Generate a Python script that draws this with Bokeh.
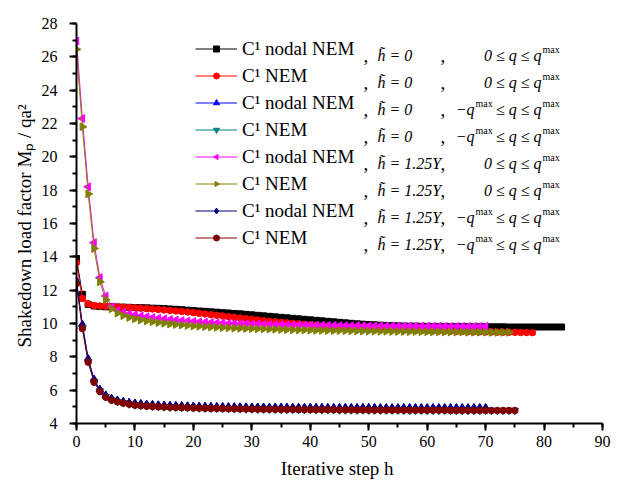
import math
from bokeh.plotting import figure
from bokeh.models import (ColumnDataSource, Range1d, SingleIntervalTicker,
                          Legend, LegendItem, Label)
from bokeh.embed import file_html
from bokeh.resources import INLINE

FONT = "Liberation Serif"

# ---------------- data ----------------
method_labels = ["C¹ nodal NEM", "C¹ NEM", "C¹ nodal NEM", "C¹ NEM",
                 "C¹ nodal NEM", "C¹ NEM", "C¹ nodal NEM", "C¹ NEM"]
h_labels = ["h̃ = 0", "h̃ = 0", "h̃ = 0", "h̃ = 0",
            "h̃ = 1.25Y", "h̃ = 1.25Y", "h̃ = 1.25Y", "h̃ = 1.25Y"]
q_symmetric = [False, False, True, True, False, False, True, True]

nodal_h0_pos = [13.90, 11.75, 11.15, 11.05, 11.02, 11.00, 11.00, 10.99, 10.98, 10.97,
                10.96, 10.95, 10.94, 10.92, 10.91, 10.89, 10.87, 10.85, 10.83, 10.80,
                10.78, 10.75, 10.73, 10.70, 10.68, 10.65, 10.63, 10.60, 10.58, 10.55,
                10.52, 10.49, 10.46, 10.43, 10.40, 10.37, 10.34, 10.31, 10.28, 10.25,
                10.22, 10.19, 10.16, 10.13, 10.10, 10.07, 10.04, 10.01, 9.98, 9.96,
                9.94, 9.92, 9.90, 9.88, 9.87, 9.86, 9.85, 9.84, 9.84, 9.83,
                9.83, 9.82, 9.82, 9.82, 9.81, 9.81, 9.81, 9.81, 9.80, 9.80,
                9.80, 9.80, 9.80, 9.80, 9.79, 9.79, 9.79, 9.79, 9.79, 9.79,
                9.79, 9.79, 9.79, 9.79]

nem_h0_pos = [13.65, 11.50, 11.18, 11.07, 11.05, 11.03, 11.02, 11.00, 10.98, 10.96,
              10.94, 10.92, 10.90, 10.87, 10.84, 10.81, 10.78, 10.75, 10.72, 10.69,
              10.65, 10.61, 10.57, 10.53, 10.49, 10.45, 10.41, 10.37, 10.33, 10.29,
              10.25, 10.21, 10.17, 10.13, 10.10, 10.07, 10.04, 10.01, 9.98, 9.95,
              9.92, 9.89, 9.86, 9.84, 9.81, 9.79, 9.77, 9.75, 9.73, 9.71,
              9.69, 9.67, 9.66, 9.64, 9.63, 9.62, 9.61, 9.60, 9.59, 9.58,
              9.57, 9.56, 9.55, 9.54, 9.53, 9.52, 9.52, 9.51, 9.50, 9.50,
              9.49, 9.49, 9.48, 9.48, 9.47, 9.47, 9.46, 9.46, 9.45]

nodal_h0_sym = [12.55, 9.95, 7.88, 6.65, 6.04, 5.70, 5.50, 5.39, 5.31, 5.25,
                5.21, 5.18, 5.15, 5.12, 5.10, 5.09, 5.07, 5.06, 5.05, 5.04,
                5.03, 5.02, 5.01, 5.01, 5.00, 5.00, 4.99, 4.99, 4.98, 4.98,
                4.97, 4.97, 4.97, 4.96, 4.96, 4.96, 4.96, 4.95, 4.95, 4.95,
                4.95, 4.95, 4.95, 4.94, 4.94, 4.94, 4.94, 4.94, 4.94, 4.94,
                4.94, 4.94, 4.93, 4.93, 4.93, 4.93, 4.93, 4.93, 4.93, 4.93,
                4.93, 4.93, 4.93, 4.93, 4.93, 4.93, 4.93, 4.93, 4.93, 4.93,
                4.93]

nem_h0_sym = [12.45, 9.75, 7.72, 6.52, 5.95, 5.61, 5.42, 5.32, 5.24, 5.17,
              5.11, 5.08, 5.05, 5.03, 5.01, 4.99, 4.98, 4.97, 4.96, 4.95,
              4.94, 4.93, 4.92, 4.91, 4.90, 4.90, 4.89, 4.88, 4.88, 4.87,
              4.87, 4.86, 4.86, 4.85, 4.85, 4.84, 4.84, 4.84, 4.83, 4.83,
              4.83, 4.82, 4.82, 4.82, 4.82, 4.81, 4.81, 4.81, 4.81, 4.81,
              4.80, 4.80, 4.80, 4.80, 4.80, 4.80, 4.79, 4.79, 4.79, 4.79,
              4.79, 4.79, 4.79, 4.79, 4.78, 4.78, 4.78, 4.78, 4.78, 4.78,
              4.78, 4.78, 4.78, 4.78, 4.78, 4.78]

nodal_h125_pos = [26.95, 22.30, 18.20, 14.85, 12.75, 11.65, 11.00, 10.78, 10.66, 10.58,
                  10.52, 10.46, 10.41, 10.36, 10.32, 10.28, 10.24, 10.21, 10.18, 10.15,
                  10.12, 10.10, 10.08, 10.06, 10.04, 10.03, 10.01, 10.00, 9.99, 9.98,
                  9.97, 9.96, 9.95, 9.94, 9.93, 9.93, 9.92, 9.91, 9.91, 9.90,
                  9.90, 9.89, 9.89, 9.88, 9.88, 9.88, 9.87, 9.87, 9.87, 9.86,
                  9.86, 9.86, 9.86, 9.85, 9.85, 9.85, 9.85, 9.85, 9.84, 9.84,
                  9.84, 9.84, 9.84, 9.84, 9.83, 9.83, 9.83, 9.83, 9.83, 9.83,
                  9.83]

nem_h125_pos = [26.45, 21.80, 17.77, 14.50, 12.50, 11.42, 10.88, 10.62, 10.47, 10.36,
                10.28, 10.21, 10.15, 10.10, 10.05, 10.01, 9.97, 9.94, 9.91, 9.88,
                9.85, 9.83, 9.81, 9.79, 9.77, 9.75, 9.74, 9.72, 9.71, 9.70,
                9.69, 9.68, 9.67, 9.66, 9.65, 9.64, 9.63, 9.62, 9.61, 9.61,
                9.60, 9.59, 9.59, 9.58, 9.57, 9.57, 9.56, 9.56, 9.55, 9.55,
                9.54, 9.54, 9.53, 9.53, 9.52, 9.52, 9.52, 9.51, 9.51, 9.51,
                9.50, 9.50, 9.50, 9.49, 9.49, 9.49, 9.49, 9.48, 9.48, 9.48,
                9.48, 9.47, 9.47, 9.47, 9.47]

nodal_h125_sym = [12.50, 9.90, 7.84, 6.62, 6.02, 5.68, 5.48, 5.38, 5.30, 5.24,
                  5.20, 5.17, 5.14, 5.12, 5.10, 5.08, 5.07, 5.06, 5.05, 5.04,
                  5.03, 5.02, 5.01, 5.00, 5.00, 4.99, 4.99, 4.98, 4.98, 4.97,
                  4.97, 4.97, 4.96, 4.96, 4.96, 4.96, 4.95, 4.95, 4.95, 4.95,
                  4.95, 4.95, 4.94, 4.94, 4.94, 4.94, 4.94, 4.94, 4.94, 4.94,
                  4.94, 4.93, 4.93, 4.93, 4.93, 4.93, 4.93, 4.93, 4.93, 4.93,
                  4.93, 4.93, 4.93, 4.93, 4.93, 4.93, 4.93, 4.93, 4.93, 4.93,
                  4.93]

nem_h125_sym = [12.40, 9.70, 7.68, 6.48, 5.92, 5.58, 5.40, 5.30, 5.22, 5.16,
                5.10, 5.07, 5.04, 5.02, 5.00, 4.99, 4.97, 4.96, 4.95, 4.94,
                4.93, 4.92, 4.91, 4.90, 4.90, 4.89, 4.88, 4.88, 4.87, 4.87,
                4.86, 4.86, 4.85, 4.85, 4.85, 4.84, 4.84, 4.84, 4.83, 4.83,
                4.83, 4.82, 4.82, 4.82, 4.82, 4.81, 4.81, 4.81, 4.81, 4.81,
                4.80, 4.80, 4.80, 4.80, 4.80, 4.80, 4.79, 4.79, 4.79, 4.79,
                4.79, 4.79, 4.79, 4.79, 4.78, 4.78, 4.78, 4.78, 4.78, 4.78,
                4.78, 4.78, 4.78, 4.78, 4.78, 4.78]

series_values = [nodal_h0_pos, nem_h0_pos, nodal_h0_sym, nem_h0_sym,
                 nodal_h125_pos, nem_h125_pos, nodal_h125_sym, nem_h125_sym]

# ---------------- styles ----------------
colors = ["#000000", "#FF0000", "#0000FF", "#008080",
          "#FF00FF", "#808000", "#000080", "#800000"]
markers = ["square", "circle", "triangle", "inverted_triangle",
           "ngon", "ngon", "diamond", "circle"]
angles = [0.0, 0.0, 0.0, 0.0, math.pi / 2, -math.pi / 2, 0.0, 0.0]
sizes = [6, 6.5, 7.5, 7.5, 4.5, 4.5, 8.5, 6.5]

p = figure(width=611, height=481, output_backend="svg", toolbar_location=None,
           x_range=Range1d(0, 90), y_range=Range1d(4, 28),
           min_border_left=76, min_border_right=9,
           min_border_top=23, min_border_bottom=56)
p.xgrid.visible = False
p.ygrid.visible = False
p.outline_line_color = None
p.background_fill_color = "white"
p.border_fill_color = "white"

p.xaxis.ticker = SingleIntervalTicker(interval=10, num_minor_ticks=2)
p.yaxis.ticker = SingleIntervalTicker(interval=2, num_minor_ticks=2)
p.axis.axis_line_width = 2
p.axis.axis_line_color = "black"
p.axis.major_tick_line_width = 2
p.axis.minor_tick_line_width = 2
p.axis.major_tick_line_color = "black"
p.axis.minor_tick_line_color = "black"
p.axis.major_tick_out = 7
p.axis.major_tick_in = 0
p.axis.minor_tick_out = 4
p.axis.minor_tick_in = 0
p.axis.major_label_text_font = FONT
p.axis.major_label_text_font_size = "16px"
p.axis.major_label_text_color = "black"
p.axis.axis_label_text_font = FONT
p.axis.axis_label_text_font_size = "19px"
p.axis.axis_label_text_font_style = "normal"
p.axis.axis_label_text_color = "black"
p.yaxis.major_label_standoff = 12
p.xaxis.major_label_standoff = 5
p.yaxis.axis_label = "Shakedown load factor  Mₚ / qa²"
p.xaxis.axis_label = "Iterative step  h"
p.yaxis.axis_label_standoff = 4
p.xaxis.axis_label_standoff = 8

items = []
for i, vals in enumerate(series_values):
    src = ColumnDataSource(dict(x=list(range(len(vals))), y=vals))
    r_line = p.line("x", "y", source=src, line_color=colors[i], line_width=1)
    if markers[i] == "ngon":
        r_mark = p.ngon("x", "y", radius=sizes[i], radius_units="screen", n=3,
                        angle=angles[i], source=src,
                        fill_color=colors[i], line_color=colors[i])
    else:
        r_mark = p.scatter("x", "y", source=src, marker=markers[i],
                           size=sizes[i], fill_color=colors[i], line_color=colors[i])
    items.append(LegendItem(label=method_labels[i], renderers=[r_line, r_mark]))

legend = Legend(items=items, location=(119, 172), orientation="vertical",
                border_line_color=None, background_fill_alpha=0,
                padding=0, spacing=0, margin=0,
                glyph_width=42, glyph_height=15, label_height=27,
                label_standoff=5, label_text_font=FONT,
                label_text_font_size="19px", label_text_baseline="middle",
                label_text_color="black")
p.add_layout(legend)

# extra legend columns (screen offsets from the frame's bottom-left corner)
for i in range(len(series_values)):
    yb = 368 - 27 * i
    common = dict(x_units="screen", y_units="screen", text_font=FONT,
                  text_color="black", text_baseline="alphabetic")
    p.add_layout(Label(x=287, y=yb, text=",", text_font_size="19px", **common))
    p.add_layout(Label(x=301, y=yb, text=h_labels[i], text_font_size="16px",
                       text_font_style="italic", **common))
    p.add_layout(Label(x=364, y=yb, text=",", text_font_size="19px", **common))
    if q_symmetric[i]:
        p.add_layout(Label(x=398, y=yb, text="−q", text_font_size="16px",
                           text_font_style="italic", text_align="right", **common))
        p.add_layout(Label(x=399, y=yb + 6, text="max", text_font_size="10px", **common))
        p.add_layout(Label(x=465, y=yb, text="≤ q ≤ q", text_font_size="16px",
                           text_font_style="italic", text_align="right", **common))
    else:
        p.add_layout(Label(x=465, y=yb, text="0 ≤ q ≤ q", text_font_size="16px",
                           text_font_style="italic", text_align="right", **common))
    p.add_layout(Label(x=466, y=yb + 6, text="max", text_font_size="10px", **common))

open("out.html", "w").write(file_html(p, INLINE))
